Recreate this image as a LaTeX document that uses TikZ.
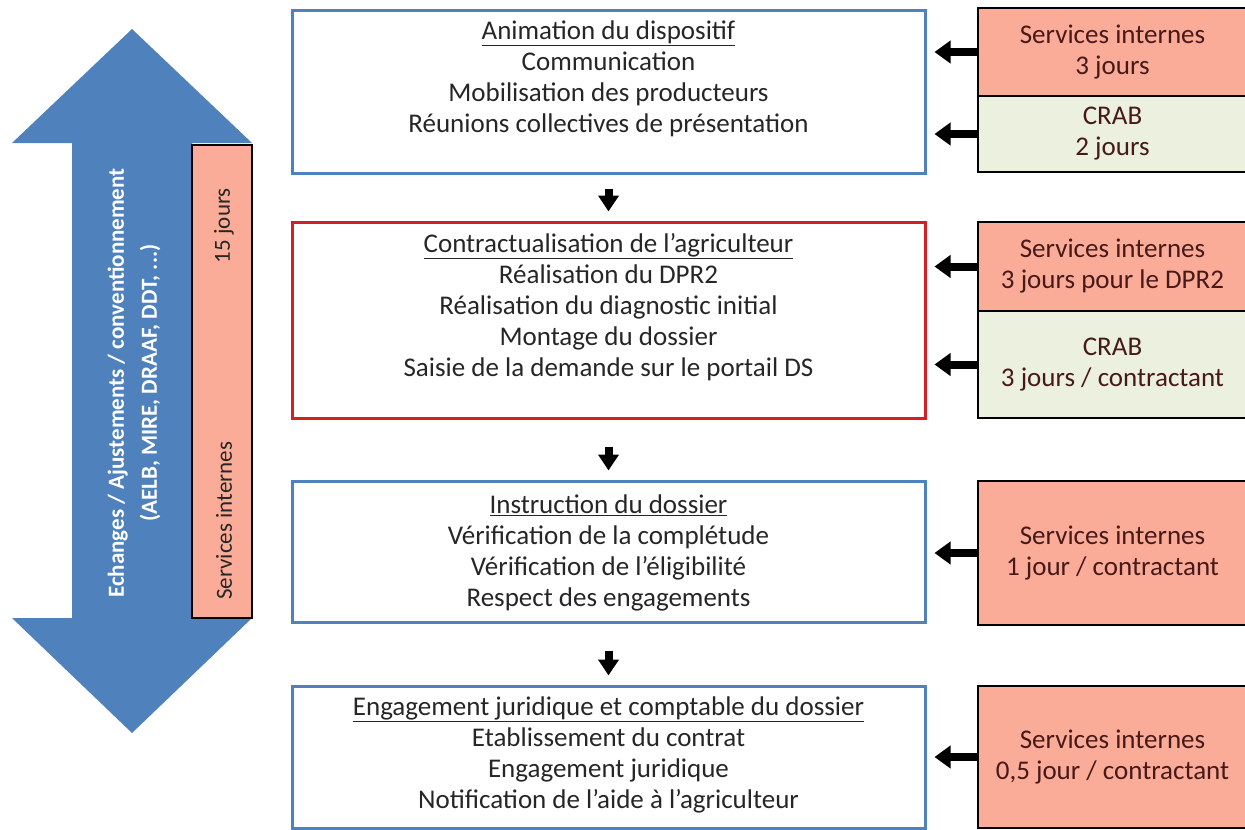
\documentclass[tikz,border=0pt]{standalone}
\usepackage{fontspec}
\setmainfont{Carlito}
\usetikzlibrary{arrows.meta,positioning}
\definecolor{arrowblue}{RGB}{79,129,189}
\definecolor{costpink}{RGB}{250,172,152}
\definecolor{costgreen}{RGB}{235,241,222}
\definecolor{framered}{RGB}{212,32,32}
\tikzset{%
  stepbox/.style={draw=arrowblue, line width=3pt, minimum width=633pt, inner sep=0pt},
  steptext/.style={align=center, inner sep=0pt, text=black!85,
    font=\fontsize{27}{31}\selectfont},
  costbox/.style={draw=black, line width=2.5pt, minimum width=269pt, inner sep=0pt,
    align=center, text=black!80!red!90, font=\fontsize{27}{31}\selectfont},
  feed/.style={line width=8pt, shorten >=8pt,
    -{Triangle[length=16pt,width=22pt]}},
  flow/.style={line width=8pt, shorten >=9pt,
    -{Triangle[length=16pt,width=20pt]}}
}
\begin{document}
\begin{tikzpicture}[x=1pt,y=-1pt]
		\useasboundingbox (0,0) rectangle (1245,830);
		% steps
		\node [stepbox, minimum height=163pt] (anim) at (608.5, 91.5) {};
		\node [stepbox, draw=framered, minimum height=196pt] (contract) at (608.5, 320) {};
		\node [stepbox, minimum height=141pt] (instr) at (608.5, 551.5) {};
		\node [stepbox, minimum height=142pt] (engag) at (608.5, 757) {};
		\node [steptext] (animtxt) at (608.5, 79) {\underline{Animation du dispositif}\\
		  Communication\\Mobilisation des producteurs\\Réunions collectives de présentation};
		\node [steptext] (contracttxt) at (608.5, 307) {\underline{Contractualisation de l’agriculteur}\\
		  Réalisation du DPR2\\Réalisation du diagnostic initial\\Montage du dossier\\
		  Saisie de la demande sur le portail DS};
		\node [steptext] (instrtxt) at (608.5, 553) {\underline{Instruction du dossier}\\
		  Vérification de la complétude\\Vérification de l’éligibilité\\Respect des engagements};
		\node [steptext] (engagtxt) at (608.5, 755) {\underline{Engagement juridique et comptable du dossier}\\
		  Etablissement du contrat\\Engagement juridique\\Notification de l’aide à l’agriculteur};
		% costs
		\node [costbox, fill=costpink, minimum height=88pt] (si1) at (1112.5, 52) {Services internes\\3 jours};
		\node [costbox, fill=costgreen, minimum height=76pt] (crab1) at (1112.5, 134) {CRAB\\2 jours};
		\node [costbox, fill=costpink, minimum height=89pt] (si2) at (1112.5, 266.5) {Services internes\\3 jours pour le DPR2};
		\node [costbox, fill=costgreen, minimum height=107pt] (crab2) at (1112.5, 364.5) {CRAB\\3 jours / contractant};
		\node [costbox, fill=costpink, minimum height=144pt] (si3) at (1112.5, 553) {Services internes\\1 jour / contractant};
		\node [costbox, fill=costpink, minimum height=142pt] (si4) at (1112.5, 757) {Services internes\\0,5 jour / contractant};
		\foreach \c in {si1, crab1, si2, crab2, si3, si4}
		  \draw [feed] (\c.west) -- (\c.west -| anim.east);
		\draw [flow] ([yshift=32pt]contract.north) -- (contract.north);
		\draw [flow] ([yshift=33pt]instr.north) -- (instr.north);
		\draw [flow] ([yshift=34pt]engag.north) -- (engag.north);
		% exchanges
		\fill [arrowblue] (132, 29) -- (252, 143) -- (192, 143) -- (192, 618)
		  -- (252, 618) -- (132, 733) -- (12, 618) -- (72, 618) -- (72, 143)
		  -- (12, 143) -- cycle;
		\node [rotate=90, align=center, text=white, inner sep=0pt,
		  font=\bfseries\fontsize{23}{33}\selectfont] (exch) at (134, 383)
		  {Echanges / Ajustements / conventionnement\\(AELB, MIRE, DRAAF, DDT, ...)};
		\node [draw=black, line width=2.5pt, fill=costpink, minimum width=60pt,
		  minimum height=473pt, inner sep=0pt] (sibar) at (222, 381.5) {};
		\node [rotate=90, anchor=west, inner sep=0pt, text=black!85,
		  font=\fontsize{23}{31}\selectfont] (sibarname) at (224, 600) {Services internes};
		\node [rotate=90, anchor=east, inner sep=0pt, text=black!85,
		  font=\fontsize{23}{31}\selectfont] (sibardays) at (224, 188) {15 jours};
	\end{tikzpicture}
\end{document}
